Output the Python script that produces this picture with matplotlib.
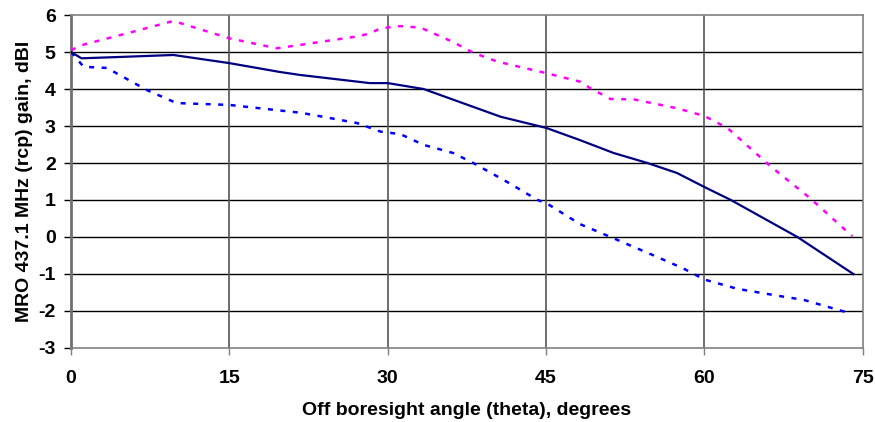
import numpy as np
import matplotlib
matplotlib.use("Agg")
import matplotlib.pyplot as plt

plt.rcParams['font.family'] = ['Liberation Sans', 'DejaVu Sans']
plt.rcParams['axes.unicode_minus'] = False

# solid: nominal gain
theta_mid = [0, 1, 5, 9.7, 15, 19.8, 21.7, 28.3, 30, 33.4, 40.7, 45, 48.2,
             51.4, 54.6, 57.4, 60, 62.5, 68.8, 74.1]
gain_mid = [5.0, 4.83, 4.87, 4.92, 4.70, 4.46, 4.38, 4.16, 4.16, 4.0, 3.25,
            2.95, 2.62, 2.27, 2.0, 1.73, 1.35, 1.0, 0.0, -1.0]

# magenta dotted: upper bound
theta_hi = [0, 1.2, 5.9, 9.7, 15, 19.5, 27.1, 28.3, 29.3, 31.2, 33.1, 36.2,
            38.1, 40.4, 45, 48.2, 49.2, 51.1, 53.3, 57.4, 60, 62.2, 66.3, 70,
            74.0]
gain_hi = [5.05, 5.2, 5.55, 5.84, 5.37, 5.1, 5.42, 5.5, 5.64, 5.7, 5.66, 5.27,
           4.98, 4.74, 4.43, 4.2, 4.02, 3.73, 3.72, 3.48, 3.27, 2.94, 1.9,
           1.05, 0.02]

# blue dotted: lower bound
theta_lo = [0, 1.2, 3.4, 7.2, 10, 15, 21.7, 22.9, 27.1, 29.3, 31.2, 33.4,
            36.2, 38.1, 41.3, 44.2, 45, 48.2, 51.1, 55.2, 58, 60, 63.1, 67.2,
            69.4, 73.4]
gain_lo = [5.0, 4.6, 4.57, 3.97, 3.62, 3.57, 3.36, 3.3, 3.08, 2.85, 2.78,
           2.49, 2.27, 2.0, 1.49, 1.0, 0.92, 0.35, 0.0, -0.5, -0.85, -1.15,
           -1.4, -1.6, -1.7, -2.03]

fig = plt.figure(figsize=(8.75, 4.22), dpi=100)
ax = fig.add_axes([0.0811, 0.1754, 0.905, 0.789])

ax.plot(theta_hi, gain_hi, color='#FF00FF', lw=1.8, ls=(0, (2, 3)), zorder=3)
ax.plot(theta_lo, gain_lo, color='#0000FF', lw=1.8, ls=(0, (2, 3)), zorder=3)
ax.plot(theta_mid, gain_mid, color='#000080', lw=1.6, zorder=4)

ax.set_xlim(0, 75)
ax.set_ylim(-3, 6)
ax.set_xticks(np.arange(0, 76, 15))
ax.set_yticks(np.arange(-3, 7, 1))

for y in range(-2, 6):
    ax.axhline(y, color='black', lw=1, zorder=1)
for x in range(15, 75, 15):
    ax.axvline(x, color='#555555', lw=1.2, zorder=1)

for s in ['top', 'right', 'bottom']:
    ax.spines[s].set_color('#808080')
    ax.spines[s].set_linewidth(1.2)
ax.spines['left'].set_color('#707070')
ax.spines['left'].set_linewidth(2)

ax.tick_params(axis='x', direction='out', length=5, width=1, color='#808080',
               pad=11, labelsize=14)
ax.tick_params(axis='y', direction='out', length=5, width=1, color='black',
               pad=6, labelsize=14)
for lab in ax.get_xticklabels() + ax.get_yticklabels():
    lab.set_fontweight('bold')

ax.set_xlabel('Off boresight angle (theta), degrees', fontsize=14,
              fontweight='bold', labelpad=11)
ax.set_ylabel('MRO 437.1 MHz (rcp) gain, dBI', fontsize=14,
              fontweight='bold', labelpad=4)

fig.savefig('out.png', dpi=100)
